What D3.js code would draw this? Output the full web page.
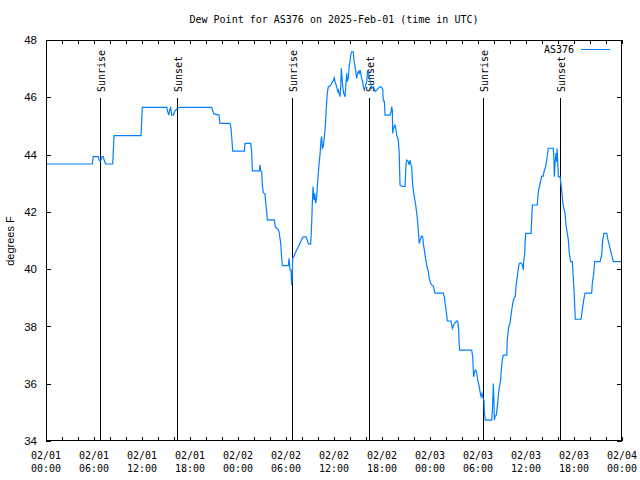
<!DOCTYPE html>
<html><head><meta charset="utf-8">
<script src="https://cdn.jsdelivr.net/npm/d3@7"></script>
<style>
body{margin:0;background:#fff}
svg{display:block}
.mono{font-family:"DejaVu Sans Mono",monospace;font-size:10px}
</style></head>
<body><svg id="c" width="640" height="480"></svg>
<script>
// hours since 2025-02-01 00:00 UTC
const hours = [0,5.79,5.91,6.54,6.66,6.84,7.0,7.16,7.29,7.46,8.34,8.5,11.88,12.04,15.09,15.21,15.34,15.46,15.59,15.71,15.91,16.13,16.34,16.75,20.71,20.84,21.0,21.63,21.75,23.0,23.13,23.34,24.79,24.88,25.59,25.71,25.79,26.66,26.75,26.84,26.96,27.04,27.16,27.38,27.46,27.59,27.66,28.54,28.66,28.84,29.04,29.16,29.34,29.46,29.54,30.29,30.38,30.5,30.63,30.71,30.79,30.84,31.0,31.13,31.34,31.54,31.75,31.96,32.16,32.5,32.66,32.79,33.09,33.21,33.29,33.38,33.5,33.59,33.71,33.84,33.91,34.04,34.16,34.25,34.38,34.46,34.54,34.66,34.75,34.88,34.96,35.09,35.16,35.29,35.5,35.71,35.91,36.04,36.16,36.34,36.46,36.54,36.63,36.75,36.84,36.91,37.0,37.09,37.21,37.38,37.5,37.59,37.66,37.79,37.91,38.0,38.09,38.21,38.41,38.5,38.63,38.75,38.84,38.91,39.04,39.16,39.25,39.34,39.46,39.59,39.66,39.79,39.91,40.09,40.21,40.41,40.59,40.71,40.91,41.13,41.34,41.54,41.75,41.96,42.09,42.16,42.29,42.38,43.0,43.13,43.21,43.29,43.34,43.41,43.5,43.63,43.71,43.84,44.04,44.16,44.25,44.46,44.88,45.0,45.09,45.29,45.38,45.5,45.63,45.71,45.79,45.91,46.04,46.21,46.34,46.46,46.59,46.66,46.84,46.96,47.09,47.16,47.29,47.41,47.59,47.79,47.91,48.09,48.21,48.41,48.54,48.63,49.66,49.79,49.91,50.09,50.16,50.63,50.79,50.91,51.04,51.34,51.46,51.59,51.63,51.71,53.21,53.34,53.41,53.46,53.59,53.71,53.84,53.96,54.13,54.25,54.38,54.5,54.63,54.75,54.79,54.91,55.71,55.79,55.88,55.91,56.0,56.04,56.13,56.29,56.38,56.46,56.59,56.71,56.84,56.91,57.04,57.16,57.59,57.66,57.84,58.0,58.16,58.34,58.5,58.66,58.75,58.91,59.04,59.16,59.34,59.46,59.59,59.66,59.71,59.84,59.88,59.96,60.63,60.71,60.79,61.41,61.54,61.96,62.16,62.25,62.46,62.59,62.79,63.41,63.5,63.54,63.63,63.75,63.84,63.88,63.96,64.04,64.25,64.38,64.5,64.63,64.88,65.0,65.16,65.29,65.41,65.59,65.79,66.0,66.16,66.88,67.0,67.21,67.38,68.21,68.29,68.46,68.59,69.25,69.46,69.59,69.75,70.09,70.25,70.41,70.54,70.71,70.91,72];
const dewPoint = [43.67,43.67,43.93,43.93,43.79,43.79,43.93,43.93,43.79,43.67,43.67,44.66,44.66,45.65,45.65,45.5,45.38,45.56,45.64,45.38,45.38,45.53,45.59,45.65,45.65,45.53,45.42,45.38,45.09,45.09,44.92,44.12,44.12,44.39,44.39,44.1,43.43,43.43,43.64,43.43,43.4,42.94,42.67,42.62,42.3,42.01,41.72,41.72,41.48,41.42,41.39,41.25,40.9,40.38,40.12,40.12,40.38,39.97,39.97,39.45,39.85,40.38,40.44,40.55,40.67,40.78,40.9,41.04,41.13,41.13,41.02,40.88,40.88,41.6,42.3,42.88,42.41,42.65,42.3,42.53,42.88,43.35,43.75,43.99,44.51,44.63,44.22,44.28,44.51,44.86,45.21,45.85,46.14,46.37,46.39,46.49,46.58,46.68,46.51,46.37,46.2,46.25,46.14,46.02,46.37,47.01,46.72,46.37,46.14,46.02,46.49,46.84,46.55,46.66,47.13,47.24,47.48,47.59,47.59,47.3,47.07,46.84,46.66,46.78,46.9,46.84,46.95,46.84,46.66,46.55,46.37,46.25,46.37,46.55,46.95,46.72,46.49,46.31,46.37,46.2,46.25,46.31,46.37,46.34,46.28,45.87,45.87,45.38,45.38,45.5,45.67,45.56,44.74,44.86,44.97,45.03,44.92,44.68,44.51,43.99,42.94,42.9,42.88,43.64,43.81,43.75,43.64,43.81,43.64,43.58,43.11,42.76,42.53,42.24,41.95,41.66,41.13,40.9,41.08,41.16,41.13,40.9,40.67,40.43,40.14,39.91,39.68,39.5,39.45,39.41,39.27,39.16,39.16,39.04,38.75,38.4,38.19,38.19,37.93,38.01,38.1,38.19,38.19,37.87,37.47,37.17,37.17,36.94,36.48,36.24,36.42,36.48,36.39,36.13,35.95,35.72,35.55,35.66,35.49,35.43,35.02,34.73,34.73,35.02,35.66,36.01,35.37,34.73,34.85,34.91,35.14,35.32,35.72,35.95,36.13,36.48,36.83,37.0,37.0,37.53,37.99,38.1,38.46,38.81,38.98,39.04,39.4,39.74,40.03,40.2,40.22,40.2,40.08,39.97,40.26,40.55,40.9,41.25,41.25,41.72,42.24,42.24,42.7,43.25,43.25,43.4,43.58,43.81,44.22,44.22,43.75,43.23,43.7,44.05,43.75,44.22,43.81,43.23,43.23,42.94,42.65,42.24,41.95,41.54,41.25,41.02,40.55,40.26,40.26,39.27,38.25,38.25,38.51,38.92,39.16,39.16,39.5,39.85,40.26,40.26,40.49,41.02,41.25,41.25,41.02,40.84,40.67,40.49,40.26,40.26];
const sunEvents = [6.75,16.375,30.75,40.375,54.67,64.29];
const sunLabels = ["Sunrise","Sunset","Sunrise","Sunset","Sunrise","Sunset"];
const yTicks = [34,36,38,40,42,44,46,48];
const titleText = "Dew Point for AS376 on 2025-Feb-01 (time in UTC)";
const seriesName = "AS376";
const yLabel = "degrees F";

const base = Date.UTC(2025,1,1);
const toDate = h => new Date(base + h*3600e3);
const L=46,R=622,T=40,B=441;
const svg = d3.select("#c");
const x = d3.scaleUtc().domain([toDate(0),toDate(72)]).range([L,R]);
const y = d3.scaleLinear().domain([34,48]).range([B,T]);
const lineColor = "#0080ff";

svg.append("text").attr("class","mono").attr("x",(L+R)/2).attr("y",23)
  .attr("text-anchor","middle").text(titleText);

// x ticks bottom/top
const xt = d3.utcHour.every(2).range(toDate(0), toDate(72.01));
const gb = svg.append("g").attr("transform",`translate(0,${B})`)
  .call(d3.axisBottom(x).tickValues(xt).tickSize(-4).tickFormat(""));
const gt = svg.append("g").attr("transform",`translate(0,${T})`)
  .call(d3.axisTop(x).tickValues(xt).tickSize(-4).tickFormat(""));
const gl = svg.append("g").attr("transform",`translate(${L},0)`)
  .call(d3.axisLeft(y).tickValues(yTicks).tickSize(-5).tickPadding(9).tickFormat(d3.format("d")));
const gr = svg.append("g").attr("transform",`translate(${R},0)`)
  .call(d3.axisRight(y).tickValues(yTicks).tickSize(-5).tickFormat(""));
[gb,gt,gl,gr].forEach(g=>{
  g.select(".domain").remove();
  g.selectAll("line").attr("stroke","#000").attr("shape-rendering","crispEdges");
});
gl.selectAll("text").attr("font-family","'Liberation Sans',Arial,sans-serif").attr("font-size",11.5).attr("fill","#000");

// x labels every 6h
const lab = d3.utcHour.every(6).range(toDate(0), toDate(72.01));
const fmtD = d3.utcFormat("%m/%d"), fmtT = d3.utcFormat("%H:%M");
const xl = svg.append("g").attr("class","mono").attr("text-anchor","middle");
lab.forEach(d=>{
  const t = xl.append("text").attr("x",x(d)).attr("y",459);
  t.append("tspan").attr("x",x(d)).text(fmtD(d));
  t.append("tspan").attr("x",x(d)).attr("dy",13).text(fmtT(d));
});

svg.append("text").attr("transform","translate(14,241) rotate(-90)")
  .attr("text-anchor","middle").attr("font-family","'Liberation Sans',Arial,sans-serif")
  .attr("font-size",11).text(yLabel);

// sun lines
const sg = svg.append("g");
sunEvents.forEach((h,i)=>{
  const xx = Math.round(x(toDate(h)))+0.5;
  sg.append("line").attr("x1",xx).attr("x2",xx).attr("y1",98).attr("y2",B)
    .attr("stroke","#000").attr("stroke-width",1);
  sg.append("text").attr("class","mono").attr("text-anchor","start")
    .attr("transform",`translate(${xx+4.5},92) rotate(-90)`).text(sunLabels[i]);
});

// data line
const data = hours.map((h,i)=>({d:toDate(h),v:dewPoint[i]}));
svg.append("path").datum(data)
  .attr("d", d3.line().x(p=>x(p.d)).y(p=>y(p.v)))
  .attr("fill","none").attr("stroke",lineColor).attr("stroke-width",1.2);

// frame
svg.append("rect").attr("x",L+0.5).attr("y",T+0.5).attr("width",R-L-1).attr("height",B-T-1)
  .attr("fill","none").attr("stroke","#000").attr("stroke-width",1);

// legend
svg.append("text").attr("class","mono").attr("x",574).attr("y",53)
  .attr("text-anchor","end").text(seriesName);
svg.append("line").attr("x1",581).attr("x2",610).attr("y1",49.5).attr("y2",49.5)
  .attr("stroke",lineColor).attr("stroke-width",1);
</script></body></html>
